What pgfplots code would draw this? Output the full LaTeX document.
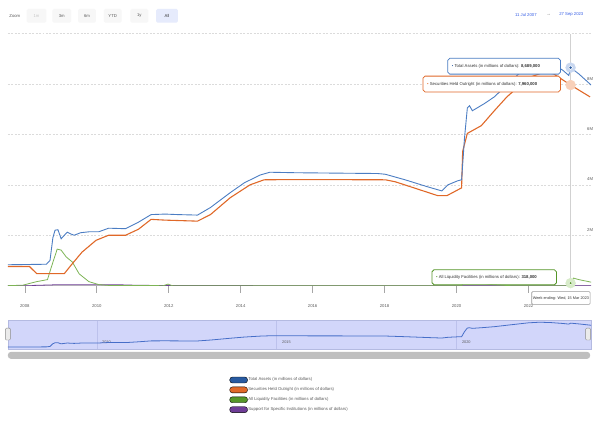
\documentclass[border=0pt]{standalone}
\usepackage{fontspec}
\setmainfont{Liberation Sans}
\usepackage{pgfplots}
\usepackage{pgfplotstable}
\pgfplotsset{compat=1.18}
\definecolor{cblue}{RGB}{75,125,195}
\definecolor{cblueleg}{RGB}{40,90,160}
\definecolor{corange}{RGB}{224,104,40}
\definecolor{cgreen}{RGB}{125,180,85}
\definecolor{cgreenleg}{RGB}{85,150,40}
\definecolor{cpurple}{RGB}{110,60,150}
\definecolor{navfill}{RGB}{210,214,250}
\definecolor{navline}{RGB}{70,110,200}
\definecolor{navborder}{RGB}{180,186,225}
\definecolor{navgrid}{RGB}{188,193,236}
\definecolor{btnsel}{RGB}{230,235,252}
\definecolor{txtgray}{RGB}{90,90,90}
\definecolor{linkblue}{RGB}{51,92,230}
\definecolor{halob}{RGB}{200,215,240}
\definecolor{haloo}{RGB}{248,208,185}
\definecolor{halog}{RGB}{215,235,200}
\newcommand\fs{\fontsize{4.3}{5}\selectfont}
\newcommand\fss{\fontsize{3.9}{4.5}\selectfont}

\pgfplotstableread{
year v
2007.53 0.83
2008.60 0.85
2008.70 1.00
2008.78 1.90
2008.84 2.20
2008.92 2.22
2009.01 1.86
2009.10 2.00
2009.18 2.12
2009.28 2.05
2009.37 2.00
2009.55 2.10
2009.80 2.14
2010.06 2.14
2010.33 2.28
2010.80 2.26
2011.16 2.52
2011.51 2.82
2011.90 2.84
2012.25 2.82
2012.80 2.80
2013.16 3.10
2013.71 3.69
2014.10 4.08
2014.54 4.39
2014.81 4.50
2015.55 4.48
2016.29 4.47
2017.00 4.46
2017.80 4.45
2018.02 4.42
2018.57 4.20
2019.20 3.92
2019.59 3.76
2019.76 4.00
2020.03 4.16
2020.14 4.20
2020.18 5.00
2020.22 5.84
2020.30 7.05
2020.36 7.14
2020.44 6.94
2020.77 7.22
2021.05 7.49
2021.50 8.10
2022.00 8.76
2022.30 8.95
2022.60 8.86
2022.95 8.55
2023.12 8.34
2023.17 8.65
2023.40 8.40
2023.74 7.96
}\tblassets

\pgfplotstableread{
year v
2007.53 0.76
2008.13 0.76
2008.20 0.66
2008.33 0.48
2009.10 0.48
2009.29 0.82
2009.59 1.33
2009.98 1.80
2010.33 2.00
2010.80 2.00
2011.16 2.24
2011.51 2.63
2011.90 2.60
2012.80 2.56
2013.16 2.82
2013.71 3.49
2014.26 4.00
2014.65 4.20
2015.55 4.21
2018.02 4.20
2018.30 4.12
2019.48 3.57
2019.73 3.57
2020.14 3.88
2020.17 5.33
2020.30 6.04
2020.69 6.35
2021.05 6.94
2021.40 7.49
2022.00 8.25
2022.45 8.48
2022.70 8.40
2023.00 8.12
2023.17 7.96
2023.71 7.49
}\tblsecurities

\pgfplotstableread{
year v
2007.53 0.00
2007.95 0.02
2008.00 0.04
2008.33 0.16
2008.63 0.24
2008.74 0.75
2008.90 1.45
2009.01 1.41
2009.15 1.14
2009.32 0.94
2009.51 0.47
2009.78 0.16
2010.06 0.04
2010.33 0.01
2011.85 0.00
2011.98 0.06
2012.10 0.00
2020.15 0.00
2020.22 0.45
2020.35 0.30
2020.60 0.12
2021.00 0.04
2021.50 0.00
2023.12 0.00
2023.17 0.10
2023.25 0.30
2023.40 0.24
2023.74 0.14
}\tblliquidity

\pgfplotstableread{
year v
2007.53 0.00
2008.20 0.00
2008.25 0.01
2008.75 0.03
2008.90 0.04
2009.50 0.04
2010.50 0.04
2011.00 0.02
2011.50 0.01
2012.50 0.01
2014.50 0.00
2023.74 0.00
}\tblsupport

\begin{document}
\begin{tikzpicture}
\begin{scope}[x=1bp,y=1bp]
\path[use as bounding box] (0,0) rectangle (598,427);
\fill[white] (0,0) rectangle (598,427);

% range selector
\node[font=\fs, text=txtgray] at (15,411) {Zoom};
\foreach \a/\b/\t/\c in {27/47/1m/gray!45, 53/72/3m/txtgray, 79/97/6m/txtgray, 105/123/YTD/txtgray, 132/150/1y/txtgray}{
  \fill[black!3, rounded corners=1.5bp] (\a,404) rectangle (\b,418);
  \node[font=\fs, text=\c] at ({(\a+\b)/2},411) {\t};
}
\fill[btnsel, rounded corners=1.5bp] (158,404) rectangle (180,418);
\node[font=\fs, text=black!80] at (169,411) {All};
\node[font=\fs, text=linkblue] at (532,412) {11 Jul 2007};
\node[font=\fs, text=txtgray] at (555,412) {→};
\node[font=\fs, text=linkblue] at (578,412) {27 Sep 2023};
\end{scope}

\begin{axis}[
  name=main, at={(8bp,138bp)}, anchor=south west, scale only axis,
  width=590bp, height=255bp,
  xmin=2007.53, xmax=2023.74, ymin=0, ymax=10,
  axis x line*=bottom, axis y line*=right,
  x axis line style={draw=black!25, line width=1.3bp, -},
  y axis line style={draw=none},
  xtick={2008,2010,2012,2014,2016,2018,2020,2022},
  xticklabels={2008,2010,2012,2014,2016,2018,2020,2022},
  tick align=outside, major tick length=7bp,
  x tick style={draw=black!35, line width=0.6bp},
  ytick={2,4,6,8,10}, yticklabels={2M,4M,6M,8M,},
  y tick style={draw=none},
  yticklabel pos=right,
  yticklabel style={anchor=south east, xshift=-1.5bp, yshift=0.5bp, font=\fs, text=txtgray},
  xticklabel style={font=\fs, text=txtgray, yshift=-9bp},
  ymajorgrids,
  major grid style={draw=black!14, line width=0.5bp, dash pattern=on 2bp off 1.5bp},
  legend style={at={(0.3797,-0.361)}, anchor=north west, draw=none, fill=none,
    font=\fs, text=txtgray, row sep=3.6bp, inner sep=0pt, nodes={inner sep=0.7bp}},
  legend cell align=left,
  legsym/.style={legend image code/.code={\fill[rounded corners=2.7bp] (0bp,-3bp) rectangle (18bp,3bp);}},
]
\addlegendimage{legsym, fill=cblueleg}
\addlegendentry{Total Assets (in millions of dollars)}
\addlegendimage{legsym, fill=corange}
\addlegendentry{Securities Held Outright (in millions of dollars)}
\addlegendimage{legsym, fill=cgreenleg}
\addlegendentry{All Liquidity Facilities (in millions of dollars)}
\addlegendimage{legsym, fill=cpurple}
\addlegendentry{Support for Specific Institutions (in millions of dollars)}

% hover halos (behind lines)
\addplot[only marks, mark=*, mark size=5bp, mark options={draw=halob, fill=halob}, forget plot] coordinates {(2023.17,8.65)};
\addplot[only marks, mark=*, mark size=5bp, mark options={draw=haloo, fill=haloo}, forget plot] coordinates {(2023.17,7.96)};
\addplot[only marks, mark=*, mark size=5bp, mark options={draw=halog, fill=halog}, forget plot] coordinates {(2023.17,0.10)};

\addplot[draw=black!18, line width=0.6bp, forget plot] coordinates {(2023.17,0) (2023.17,10)};
\addplot[cpurple, line width=0.8bp, forget plot] table[x=year,y=v] {\tblsupport};
\addplot[cgreen, line width=0.8bp, forget plot] table[x=year,y=v] {\tblliquidity};
\addplot[corange, line width=1.1bp, forget plot] table[x=year,y=v] {\tblsecurities};
\addplot[cblue, line width=0.9bp, forget plot] table[x=year,y=v] {\tblassets};

% hover points
\addplot[only marks, mark=*, mark size=2bp, mark options={draw=white, line width=0.5bp, fill=cblueleg}, forget plot] coordinates {(2023.17,8.65)};
\addplot[only marks, mark=*, mark size=1.6bp, mark options={draw=white, line width=0.4bp, fill=cgreenleg}, forget plot] coordinates {(2023.17,0.10)};
\end{axis}

% navigator
\begin{axis}[
  at={(8bp,74bp)}, anchor=south west, scale only axis,
  width=590bp, height=29bp,
  xmin=2007.53, xmax=2023.74, ymin=0.18, ymax=9.6,
  axis background/.style={fill=navfill},
  axis line style={draw=navborder, line width=0.5bp},
  ytick=\empty,
  xtick={2010,2015,2020}, xticklabels={2010,2015,2020},
  xtick style={draw=none},
  xmajorgrids, major grid style={draw=navgrid, line width=0.5bp},
  xticklabel style={anchor=south west, xshift=2bp, yshift=1.5bp, font=\fss, text=txtgray},
]
\addplot[navline, line width=0.8bp] table[x=year,y=v] {\tblassets};
\end{axis}

\begin{scope}[x=1bp,y=1bp]
% navigator handles and scrollbar
\draw[fill=black!8, draw=black!45, line width=0.4bp, rounded corners=1bp] (5.5,83) rectangle (10.5,95);
\draw[fill=black!8, draw=black!45, line width=0.4bp, rounded corners=1bp] (592.5,83) rectangle (597.5,95);
\fill[black!25, rounded corners=3bp] (8,64) rectangle (597,71);

% tooltips
\draw[cblue, line width=0.8bp, fill=white, rounded corners=2bp] (453,352) rectangle (567,368);
\node[anchor=west, font=\fs, text=black!80, inner sep=0pt] at (457,360) {\textcolor{cblueleg}{•} Total Assets (in millions of dollars): \textbf{8,689,000}};
\draw[corange, line width=0.8bp, fill=white, rounded corners=2bp] (428,334) rectangle (567,350);
\node[anchor=west, font=\fs, text=black!80, inner sep=0pt] at (432,342) {\textcolor{corange}{•} Securities Held Outright (in millions of dollars): \textbf{7,960,000}};
\draw[cgreenleg, line width=0.8bp, fill=white, rounded corners=2bp] (437,139) rectangle (563,154);
\node[anchor=west, font=\fs, text=black!80, inner sep=0pt] at (441,146.5) {\textcolor{cgreenleg}{•} All Liquidity Facilities (in millions of dollars): \textbf{318,000}};
\draw[black!40, line width=0.6bp, fill=white, rounded corners=1bp] (538,119) rectangle (597,132);
\node[font=\fss, text=black!80, inner sep=0pt] at (567.5,125.5) {Week ending: Wed, 15 Mar 2023};
\end{scope}
\end{tikzpicture}
\end{document}
